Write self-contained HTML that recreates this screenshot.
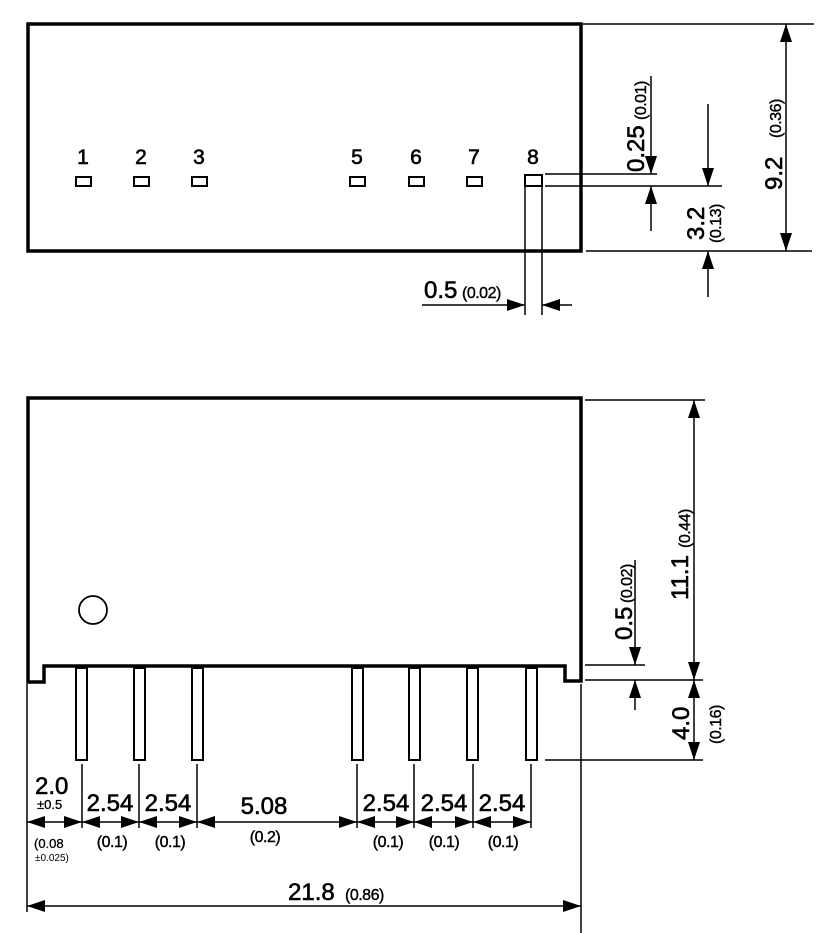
<!DOCTYPE html>
<html><head><meta charset="utf-8"><style>
html,body{margin:0;padding:0;background:#fff;}
svg{display:block;}
text{font-family:"Liberation Sans",sans-serif;fill:#000;}
.b{font-size:24px;stroke:#000;stroke-width:0.6px;}
.s{font-size:16px;stroke:#000;stroke-width:0.4px;letter-spacing:-0.5px;}
</style></head><body>
<svg width="827" height="933" viewBox="0 0 827 933" xmlns="http://www.w3.org/2000/svg">
<defs>
<marker id="a" viewBox="0 0 18 12" refX="18" refY="6" markerWidth="18" markerHeight="12" markerUnits="userSpaceOnUse" orient="auto"><path d="M0,0 L18,6 L0,12 z" fill="#000"/></marker>
</defs>
<g stroke="#000" fill="none">
<rect x="28" y="24" width="553" height="227" stroke-width="3.5"/>
<g stroke-width="2">
<rect x="76" y="177" width="15" height="9"/><rect x="134" y="177" width="15" height="9"/><rect x="192" y="177" width="15" height="9"/>
<rect x="350" y="177" width="15" height="9"/><rect x="409" y="177" width="15" height="9"/><rect x="467" y="177" width="15" height="9"/>
<rect x="525" y="175" width="17" height="11"/>
</g>
<g stroke-width="1.5">
<line x1="525" y1="186" x2="525" y2="315"/><line x1="542" y1="186" x2="542" y2="315"/>
<line x1="545" y1="174" x2="657" y2="174"/><line x1="545" y1="186" x2="722" y2="186"/>
<line x1="583" y1="24" x2="814" y2="24"/><line x1="586" y1="251" x2="812" y2="251"/>
<line x1="651" y1="76" x2="651" y2="174" marker-end="url(#a)"/><line x1="651" y1="231" x2="651" y2="186" marker-end="url(#a)"/>
<line x1="708" y1="104" x2="708" y2="186" marker-end="url(#a)"/><line x1="708" y1="297" x2="708" y2="251" marker-end="url(#a)"/>
<line x1="786" y1="137" x2="786" y2="24" marker-end="url(#a)"/><line x1="786" y1="137" x2="786" y2="251" marker-end="url(#a)"/>
<line x1="422" y1="305" x2="525" y2="305" marker-end="url(#a)"/><line x1="572" y1="305" x2="542" y2="305" marker-end="url(#a)"/>
</g>
<path d="M28,682 L28,398 L581,398 L581,681 L565,681 L565,666 L44,666 L44,682 Z" stroke-width="3.5"/>
<circle cx="93" cy="610" r="14" stroke-width="1.8"/>
<g stroke-width="2">
<rect x="76" y="668" width="11" height="92"/><rect x="134" y="668" width="11" height="92"/><rect x="192" y="668" width="11" height="92"/>
<rect x="352" y="668" width="11" height="92"/><rect x="409" y="668" width="11" height="92"/><rect x="467" y="668" width="11" height="92"/><rect x="526" y="668" width="11" height="92"/>
</g>
<g stroke-width="1.5">
<line x1="27" y1="684" x2="27" y2="912"/><line x1="581" y1="684" x2="581" y2="933"/>
<line x1="82" y1="764" x2="82" y2="828"/><line x1="139" y1="764" x2="139" y2="828"/><line x1="197" y1="764" x2="197" y2="828"/>
<line x1="357" y1="764" x2="357" y2="828"/><line x1="414" y1="764" x2="414" y2="828"/><line x1="473" y1="764" x2="473" y2="828"/><line x1="531" y1="764" x2="531" y2="828"/>
<line x1="55" y1="822" x2="27" y2="822" marker-end="url(#a)"/><line x1="55" y1="822" x2="82" y2="822" marker-end="url(#a)"/>
<line x1="110" y1="822" x2="82" y2="822" marker-end="url(#a)"/><line x1="110" y1="822" x2="139" y2="822" marker-end="url(#a)"/>
<line x1="168" y1="822" x2="139" y2="822" marker-end="url(#a)"/><line x1="168" y1="822" x2="197" y2="822" marker-end="url(#a)"/>
<line x1="277" y1="822" x2="197" y2="822" marker-end="url(#a)"/><line x1="277" y1="822" x2="357" y2="822" marker-end="url(#a)"/>
<line x1="385" y1="822" x2="357" y2="822" marker-end="url(#a)"/><line x1="385" y1="822" x2="414" y2="822" marker-end="url(#a)"/>
<line x1="443" y1="822" x2="414" y2="822" marker-end="url(#a)"/><line x1="443" y1="822" x2="473" y2="822" marker-end="url(#a)"/>
<line x1="502" y1="822" x2="473" y2="822" marker-end="url(#a)"/><line x1="502" y1="822" x2="531" y2="822" marker-end="url(#a)"/>
<line x1="304" y1="906" x2="27" y2="906" marker-end="url(#a)"/><line x1="304" y1="906" x2="581" y2="906" marker-end="url(#a)"/>
<line x1="585" y1="400" x2="705" y2="400"/><line x1="585" y1="665" x2="645" y2="665"/>
<line x1="585" y1="680" x2="703" y2="680"/><line x1="545" y1="760" x2="703" y2="760"/>
<line x1="635" y1="560" x2="635" y2="665" marker-end="url(#a)"/><line x1="635" y1="710" x2="635" y2="680" marker-end="url(#a)"/>
<line x1="694" y1="540" x2="694" y2="400" marker-end="url(#a)"/><line x1="694" y1="540" x2="694" y2="680" marker-end="url(#a)"/>
<line x1="694" y1="720" x2="694" y2="680" marker-end="url(#a)"/><line x1="694" y1="720" x2="694" y2="760" marker-end="url(#a)"/>
</g>
</g>
<g font-size="21" stroke="#000" stroke-width="0.6">
<text x="83" y="164" text-anchor="middle">1</text><text x="141" y="164" text-anchor="middle">2</text><text x="199" y="164" text-anchor="middle">3</text>
<text x="357" y="164" text-anchor="middle">5</text><text x="416" y="164" text-anchor="middle">6</text><text x="474" y="164" text-anchor="middle">7</text><text x="533" y="164" text-anchor="middle">8</text>
</g>
<text x="424" y="298" class="b">0.5</text><text x="462" y="298" class="s">(0.02)</text>
<text transform="translate(644,172) rotate(-90)" class="b">0.25</text><text transform="translate(646,120) rotate(-90)" class="s">(0.01)</text>
<text transform="translate(704,240) rotate(-90)" class="b">3.2</text><text transform="translate(721,243) rotate(-90)" class="s">(0.13)</text>
<text transform="translate(782,190) rotate(-90)" class="b">9.2</text><text transform="translate(781,138) rotate(-90)" class="s">(0.36)</text>
<text x="35" y="794" class="b">2.0</text><text x="37" y="809" font-size="13" stroke="#000" stroke-width="0.3">±0.5</text>
<text x="34" y="848" font-size="13" stroke="#000" stroke-width="0.3">(0.08</text><text x="35" y="861" font-size="10">±0.025)</text>
<text x="110" y="811" class="b" text-anchor="middle">2.54</text><text x="112" y="847" class="s" text-anchor="middle">(0.1)</text>
<text x="168" y="811" class="b" text-anchor="middle">2.54</text><text x="170" y="847" class="s" text-anchor="middle">(0.1)</text>
<text x="264" y="814" class="b" text-anchor="middle">5.08</text><text x="265" y="842" class="s" text-anchor="middle">(0.2)</text>
<text x="386" y="811" class="b" text-anchor="middle">2.54</text><text x="388" y="847" class="s" text-anchor="middle">(0.1)</text>
<text x="444" y="811" class="b" text-anchor="middle">2.54</text><text x="444" y="847" class="s" text-anchor="middle">(0.1)</text>
<text x="502" y="811" class="b" text-anchor="middle">2.54</text><text x="503" y="847" class="s" text-anchor="middle">(0.1)</text>
<text x="288" y="900" class="b">21.8</text><text x="345" y="900" class="s">(0.86)</text>
<text transform="translate(632,640) rotate(-90)" class="b">0.5</text><text transform="translate(632,603) rotate(-90)" class="s">(0.02)</text>
<text transform="translate(688,600) rotate(-90)" class="b">11.1</text><text transform="translate(690,548) rotate(-90)" class="s">(0.44)</text>
<text transform="translate(689,740) rotate(-90)" class="b">4.0</text><text transform="translate(721,744) rotate(-90)" class="s">(0.16)</text>
</svg>
</body></html>
